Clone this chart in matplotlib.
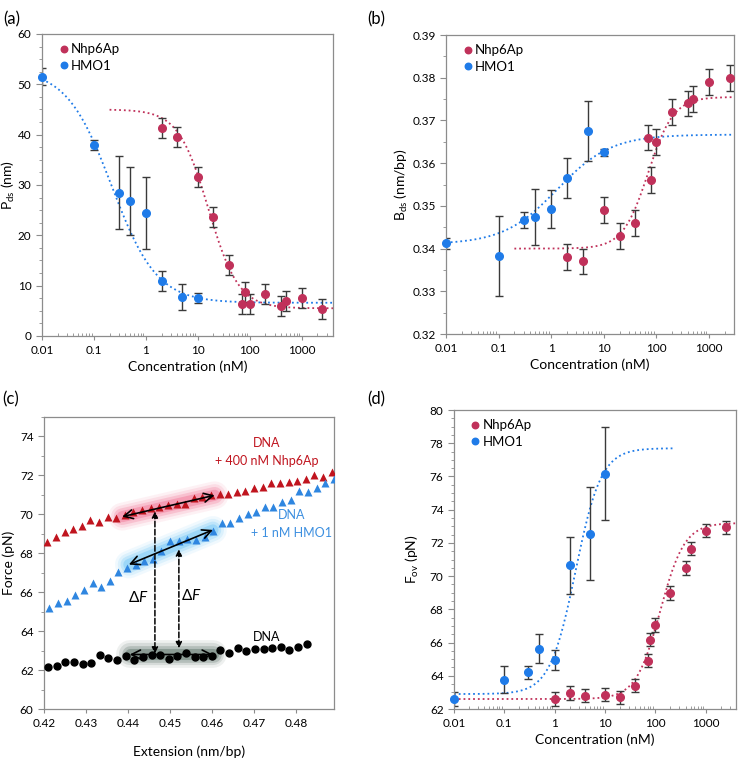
import numpy as np
import matplotlib
matplotlib.use('Agg')
import matplotlib.pyplot as plt
from matplotlib.ticker import MultipleLocator, LogLocator, NullFormatter, FixedLocator, FixedFormatter

plt.rcParams['font.family'] = ['Lato', 'DejaVu Sans']
plt.rcParams['mathtext.fontset'] = 'custom'
plt.rcParams['mathtext.rm'] = 'Lato'
plt.rcParams['mathtext.it'] = 'Lato:italic'

RED = '#C0315A'
BLUE = '#1F7BE8'
ERR = '#3A3A3A'
SPINE = '#8C8C8C'

# panel (a) persistence length
a_hmo_x = [0.01, 0.1, 0.3, 0.5, 1, 2, 5, 10]
a_hmo_y = [51.5, 38.0, 28.5, 26.8, 24.4, 11.0, 7.8, 7.6]
a_hmo_e = [1.7, 1.0, 7.2, 6.7, 7.2, 2.0, 2.6, 1.0]
a_nhp_x = [2, 4, 10, 20, 40, 70, 80, 100, 200, 400, 500, 1000, 2500]
a_nhp_y = [41.4, 39.5, 31.6, 23.7, 14.1, 6.4, 8.7, 6.3, 8.3, 5.9, 7.0, 7.5, 5.3]
a_nhp_e = [2.0, 2.0, 2.0, 2.0, 2.0, 2.0, 2.0, 2.0, 2.0, 2.0, 2.0, 2.0, 2.0]
# fit params: start, end, midpoint, hill n, x from
a_hmo_fit = [53.0, 6.6, 0.22, 1.0, 0.01]
a_nhp_fit = [45.0, 5.5, 16.0, 1.5, 0.2]

# panel (b) rise per bp
b_hmo_x = [0.01, 0.1, 0.3, 0.5, 1, 2, 5, 10]
b_hmo_y = [0.3412, 0.3383, 0.3467, 0.3474, 0.3493, 0.3565, 0.3675, 0.3625]
b_hmo_e = [0.0012, 0.0093, 0.0019, 0.0065, 0.0045, 0.0047, 0.0070, 0.0008]
b_nhp_x = [2, 4, 10, 20, 40, 70, 80, 100, 200, 400, 500, 1000, 2500]
b_nhp_y = [0.338, 0.337, 0.349, 0.343, 0.346, 0.366, 0.356, 0.365, 0.372, 0.374, 0.375, 0.379, 0.380]
b_nhp_e = [0.003] * 13
b_hmo_fit = [0.3410, 0.3667, 1.3, 0.85, 0.01]
b_nhp_fit = [0.3400, 0.3755, 70.0, 1.8, 0.2]

# panel (c) force-extension
c_x0 = 0.421
c_dx = 0.00205
c_dna = [62.14, 62.20, 62.39, 62.41, 62.32, 62.34, 62.76, 62.61, 62.53, 62.71,
         62.54, 62.69, 62.78, 62.75, 62.58, 62.71, 62.88, 62.69, 62.68, 62.73,
         63.05, 62.90, 63.15, 63.00, 63.10, 63.08, 63.12, 63.19, 63.02, 63.20, 63.34]
c_nhp = [68.59, 68.86, 69.07, 69.24, 69.42, 69.73, 69.63, 69.86, 69.81, 69.97,
         70.10, 70.20, 70.34, 70.36, 70.49, 70.51, 70.54, 70.83, 70.90, 70.98,
         71.05, 71.07, 71.14, 71.20, 71.36, 71.42, 71.61, 71.61, 71.66, 71.73,
         71.83, 72.02, 71.92, 72.15]
c_hmo = [65.20, 65.42, 65.56, 65.85, 66.10, 66.49, 66.27, 66.59, 67.02, 67.22,
         67.42, 67.59, 67.73, 68.10, 68.64, 68.64, 68.73, 68.68, 68.86, 69.12,
         69.54, 69.54, 69.80, 70.02, 70.10, 70.36, 70.36, 70.61, 70.73, 71.22,
         71.15, 71.36, 71.59, 71.80]

# panel (d) overstretching force
d_hmo_x = [0.01, 0.1, 0.3, 0.5, 1, 2, 5, 10]
d_hmo_y = [62.6, 63.77, 64.2, 65.63, 64.97, 70.65, 72.54, 76.15]
d_hmo_e = [0.4, 0.83, 0.4, 0.88, 0.6, 1.7, 2.8, 2.8]
d_nhp_x = [1, 2, 4, 10, 20, 40, 70, 80, 100, 200, 400, 500, 1000, 2500]
d_nhp_y = [62.6, 62.96, 62.8, 62.86, 62.7, 63.4, 64.9, 66.17, 67.06, 68.98, 70.49, 71.65, 72.74, 72.94]
d_nhp_e = [0.4] * 14
d_hmo_fit = [62.9, 77.7, 2.6, 1.7, 0.01, 230]
d_nhp_fit = [62.6, 73.2, 125.0, 1.8, 0.01]


def hill(p, xmax):
    xs = np.logspace(np.log10(p[4]), np.log10(xmax), 300)
    ys = p[0] + (p[1] - p[0]) / (1 + (p[2] / xs) ** p[3])
    return xs, ys


def style_axes(ax):
    for s in ax.spines.values():
        s.set_color(SPINE)
        s.set_linewidth(0.9)
    ax.tick_params(which='both', colors=SPINE, labelcolor='black', labelsize=8.5)
    ax.tick_params(axis='y', which='major', direction='out', length=4)
    ax.tick_params(axis='y', which='minor', direction='out', length=2.5)
    ax.tick_params(top=False, right=False)


def conc_axes(ax, xmax):
    ax.set_xscale('log')
    ax.set_xlim(0.01, xmax)
    ax.xaxis.set_major_locator(FixedLocator([0.01, 0.1, 1, 10, 100, 1000]))
    ax.xaxis.set_major_formatter(FixedFormatter(['0.01', '0.1', '1', '10', '100', '1000']))
    ax.xaxis.set_minor_locator(LogLocator(base=10, subs=np.arange(2, 10)))
    ax.xaxis.set_minor_formatter(NullFormatter())
    ax.tick_params(axis='x', which='major', direction='out', length=3)
    ax.tick_params(axis='x', which='minor', direction='in', length=2.5)
    ax.set_xlabel('Concentration (nM)', fontsize=10, labelpad=3)


def series(ax, x, y, e, color, label):
    ax.errorbar(x, y, yerr=e, fmt='none', ecolor=ERR, elinewidth=1.0,
                capsize=3.2, capthick=1.0, zorder=2)
    ax.plot(x, y, 'o', color=color, ms=5.5, label=label, zorder=3, clip_on=False)


def legend(ax):
    ax.legend(loc='upper left', frameon=False, fontsize=9.5, handletextpad=0.05,
              handlelength=1.0, borderaxespad=0.3, labelspacing=0.35,
              markerscale=0.85, bbox_to_anchor=(0.02, 1.0))


fig = plt.figure(figsize=(7.39, 7.60), dpi=100)

# (a)
ax = fig.add_axes([0.0568, 0.5579, 0.3938, 0.3974])
style_axes(ax)
x, y = hill(a_hmo_fit, 4000)
ax.plot(x, y, ':', color=BLUE, lw=1.3, zorder=1)
x, y = hill(a_nhp_fit, 4000)
ax.plot(x, y, ':', color=RED, lw=1.3, zorder=1)
series(ax, a_nhp_x, a_nhp_y, a_nhp_e, RED, 'Nhp6Ap')
series(ax, a_hmo_x, a_hmo_y, a_hmo_e, BLUE, 'HMO1')
conc_axes(ax, 4000)
ax.set_ylim(0, 60)
ax.yaxis.set_major_locator(MultipleLocator(10))
ax.yaxis.set_minor_locator(MultipleLocator(2.5))
ax.set_ylabel(r'P$_{\rm ds}$ (nm)', fontsize=10)
ax.yaxis.set_label_coords(-0.085, 0.5)
legend(ax)

# (b)
ax = fig.add_axes([0.6035, 0.5605, 0.3897, 0.3934])
style_axes(ax)
x, y = hill(b_hmo_fit, 3000)
ax.plot(x, y, ':', color=BLUE, lw=1.3, zorder=1)
x, y = hill(b_nhp_fit, 3000)
ax.plot(x, y, ':', color=RED, lw=1.3, zorder=1)
series(ax, b_nhp_x, b_nhp_y, b_nhp_e, RED, 'Nhp6Ap')
series(ax, b_hmo_x, b_hmo_y, b_hmo_e, BLUE, 'HMO1')
conc_axes(ax, 3000)
ax.set_ylim(0.32, 0.39)
ax.yaxis.set_major_locator(MultipleLocator(0.01))
ax.yaxis.set_minor_locator(MultipleLocator(0.005))
ax.yaxis.set_major_formatter(matplotlib.ticker.FormatStrFormatter('%.2f'))
ax.set_ylabel(r'B$_{\rm ds}$ (nm/bp)', fontsize=10)
ax.yaxis.set_label_coords(-0.125, 0.5)
legend(ax)

# (c)
ax = fig.add_axes([0.0595, 0.0671, 0.3924, 0.3842])
style_axes(ax)
xd = c_x0 + c_dx * np.arange(len(c_dna))
xn = c_x0 - 0.0002 + c_dx * np.arange(len(c_nhp))
xh = c_x0 + 0.0003 + c_dx * np.arange(len(c_hmo))

# soft glows behind the arrows
glows = [((0.4386, 0.4606), (69.88, 70.98), '#F0507A'),
         ((0.4402, 0.4602), (67.42, 69.20), '#4CB8F4'),
         ((0.4404, 0.4602), (62.80, 62.80), '#2E4A3E')]
for gx, gy, gc in glows:
    for lw, al in [(20, 0.08), (16, 0.12), (12, 0.2), (8, 0.3)]:
        ax.plot(gx, gy, '-', color=gc, lw=lw, alpha=al, solid_capstyle='round', zorder=1)

ax.plot(xn, c_nhp, '^', color='#C0141E', ms=5.5, zorder=3, mec='none')
ax.plot(xh, c_hmo, '^', color='#2F86E0', ms=5.5, zorder=3, mec='none')
ax.plot(xd, c_dna, 'o', color='black', ms=5, zorder=3)

for gx, gy, gc in glows:
    ax.annotate('', xy=(gx[0], gy[0]), xytext=(gx[1], gy[1]),
                arrowprops=dict(arrowstyle='<->', color='black', lw=1.2,
                                shrinkA=0, shrinkB=0, mutation_scale=16), zorder=4)
ax.annotate('', xy=(0.4464, 62.85), xytext=(0.4464, 70.15),
            arrowprops=dict(arrowstyle='<|-|>', color='black', lw=1.1, ls='--',
                            shrinkA=0, shrinkB=0, mutation_scale=9), zorder=4)
ax.annotate('', xy=(0.4521, 63.12), xytext=(0.4521, 68.2),
            arrowprops=dict(arrowstyle='<|-|>', color='black', lw=1.1, ls='--',
                            shrinkA=0, shrinkB=0, mutation_scale=9), zorder=4)
ax.text(0.4424, 65.73, r'$\Delta$$\it{F}$', fontsize=11, ha='center', va='center')
ax.text(0.4551, 65.85, r'$\Delta$$\it{F}$', fontsize=11, ha='center', va='center')
ax.text(0.4729, 73.2, 'DNA\n+ 400 nM Nhp6Ap', color='#C0141E', fontsize=9,
        ha='center', va='center', linespacing=1.6)
ax.text(0.4789, 69.5, 'DNA\n+ 1 nM HMO1', color='#3C8FE0', fontsize=9,
        ha='center', va='center', linespacing=1.6)
ax.text(0.4729, 63.7, 'DNA', color='black', fontsize=9, ha='center', va='center')

ax.set_xlim(0.42, 0.489)
ax.set_ylim(60, 75)
ax.xaxis.set_major_locator(MultipleLocator(0.01))
ax.xaxis.set_major_formatter(matplotlib.ticker.FormatStrFormatter('%.2f'))
ax.yaxis.set_major_locator(FixedLocator([60, 62, 64, 66, 68, 70, 72, 74]))
ax.yaxis.set_minor_locator(MultipleLocator(1))
ax.tick_params(axis='x', which='major', direction='out', length=3)
ax.set_xlabel('Extension (nm/bp)', fontsize=10, labelpad=12)
ax.set_ylabel('Force (pN)', fontsize=10)
ax.yaxis.set_label_coords(-0.1, 0.5)

# (d)
ax = fig.add_axes([0.6143, 0.0671, 0.3816, 0.3934])
style_axes(ax)
x, y = hill(d_hmo_fit, d_hmo_fit[5])
ax.plot(x, y, ':', color=BLUE, lw=1.3, zorder=1)
x, y = hill(d_nhp_fit, 4000)
ax.plot(x, y, ':', color=RED, lw=1.3, zorder=1)
series(ax, d_nhp_x, d_nhp_y, d_nhp_e, RED, 'Nhp6Ap')
series(ax, d_hmo_x, d_hmo_y, d_hmo_e, BLUE, 'HMO1')
conc_axes(ax, 4000)
ax.set_ylim(62, 80)
ax.yaxis.set_major_locator(MultipleLocator(2))
ax.yaxis.set_minor_locator(MultipleLocator(0.5))
ax.set_ylabel(r'F$_{\rm ov}$ (pN)', fontsize=10)
ax.yaxis.set_label_coords(-0.117, 0.5)
legend(ax)

# panel letters
for lx, ly, t in [(0.005, 0.985, '(a)'), (0.497, 0.985, '(b)'),
                  (0.003, 0.485, '(c)'), (0.497, 0.485, '(d)')]:
    fig.text(lx, ly, t, fontsize=12, ha='left', va='top')

fig.savefig('out.png', dpi=100, facecolor='white')
